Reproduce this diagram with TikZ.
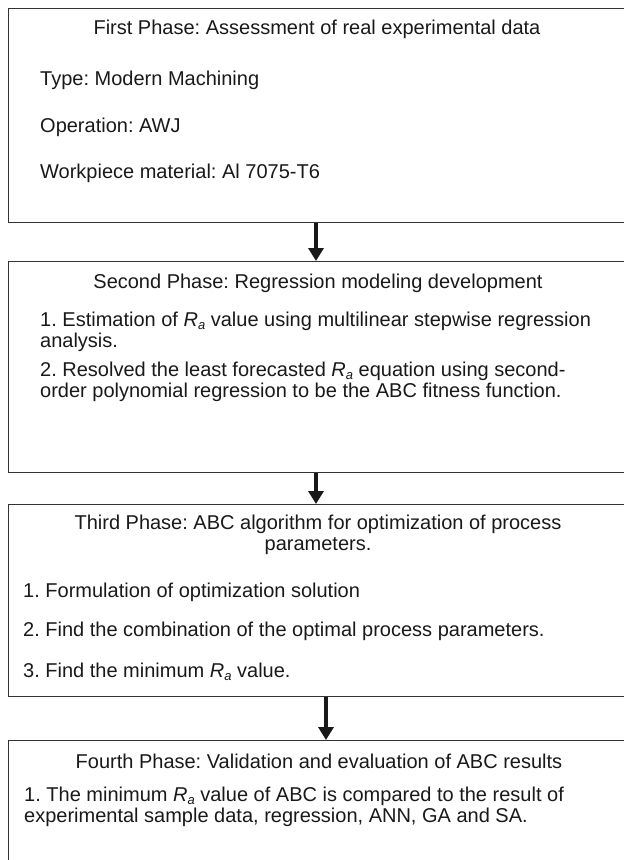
\documentclass[tikz,border=0pt]{standalone}
\usepackage{fontspec}
\setmainfont{Liberation Sans}
\usetikzlibrary{arrows.meta}
\frenchspacing
\newcommand{\Ra}{\textit{R}\raisebox{-3pt}{\fontsize{13}{13}\selectfont\textit{a}}}
\begin{document}
\begin{tikzpicture}[x=1pt,y=-1pt,
  box/.style={draw=black!80, line width=1.4pt, inner sep=0pt, anchor=north west, minimum width=620pt},
  txt/.style={anchor=west, inner sep=0pt, font=\fontsize{20}{20.5}\selectfont\frenchspacing, align=left, text=black!90},
  ttl/.style={anchor=center, inner sep=0pt, font=\fontsize{20}{20.5}\selectfont\frenchspacing, align=center, text=black!90},
  flow/.style={line width=4.5pt, black!90, -{Triangle[width=15pt,length=13pt]}}
]
\useasboundingbox (0,0) rectangle (624,860);
\begin{scope}
\clip (0,0) rectangle (624,860);
\node[box, minimum height=214pt] (b1) at (8,8) {};
\node[box, minimum height=211pt] (b2) at (8,261) {};
\node[box, minimum height=192pt] (b3) at (8,504) {};
\node[box, minimum height=160pt] (b4) at (8,740) {};

\node[ttl] (t1) at (317,29) {First Phase: Assessment of real experimental data};
\node[txt] (t1a) at (40,80) {Type: Modern Machining};
\node[txt] (t1b) at (40,127) {Operation: AWJ};
\node[txt] (t1c) at (40,173) {Workpiece material: Al 7075-T6};

\node[ttl] (t2) at (318,283) {Second Phase: Regression modeling development};
\node[txt] (t2a) at (40,332) {1. Estimation of \Ra{} value using multilinear stepwise regression\\analysis.};
\node[txt] (t2b) at (40,382) {2. Resolved the least forecasted \Ra{} equation using second-\\order polynomial regression to be the ABC fitness function.};

\node[ttl] (t3) at (318,535) {Third Phase: ABC algorithm for optimization of process\\parameters.};
\node[txt] (t3a) at (23,592) {1. Formulation of optimization solution};
\node[txt] (t3b) at (23,631) {2. Find the combination of the optimal process parameters.};
\node[txt] (t3c) at (23,672) {3. Find the minimum \Ra{} value.};

\node[ttl] (t4) at (319,761) {Fourth Phase: Validation and evaluation of ABC results};
\node[txt] (t4a) at (24,807) {1. The minimum \Ra{} value of ABC is compared to the result of\\experimental sample data, regression, ANN, GA and SA.};

\coordinate (x1) at (316,0);
\coordinate (x3) at (326,0);
\draw[flow] (b1.south -| x1) -- (b2.north -| x1);
\draw[flow] (b2.south -| x1) -- (b3.north -| x1);
\draw[flow] (b3.south -| x3) -- (b4.north -| x3);
\end{scope}
\end{tikzpicture}
\end{document}
